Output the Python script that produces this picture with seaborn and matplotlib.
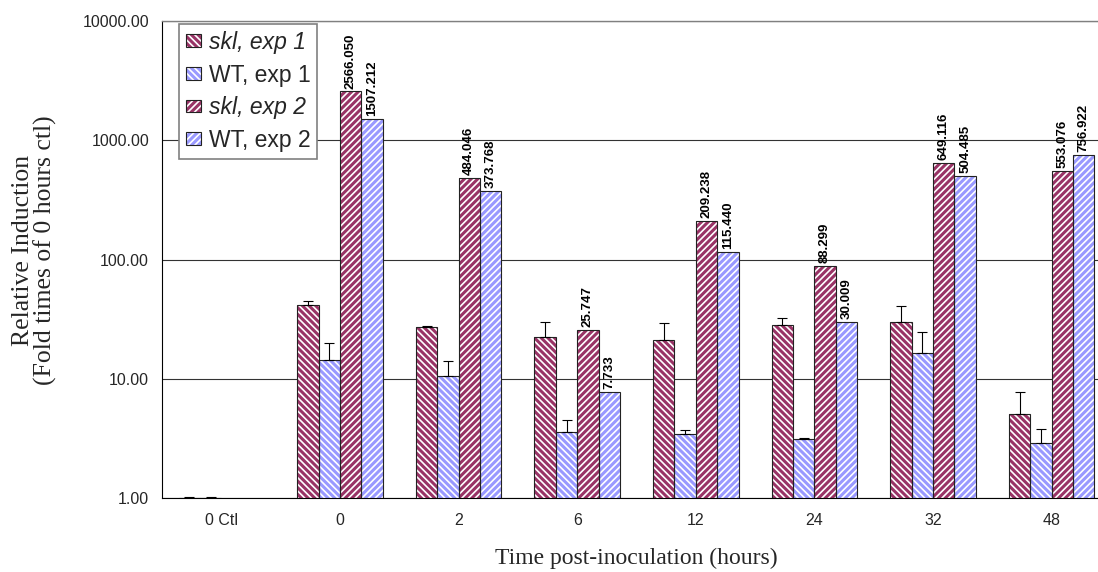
import numpy as np
import pandas as pd
import matplotlib
matplotlib.use("Agg")
import matplotlib.pyplot as plt
import seaborn as sns
from matplotlib.patches import Rectangle, Patch
from matplotlib.ticker import FixedLocator, NullLocator, FormatStrFormatter

# ---------------- data ----------------
categories = ["0 Ctl", "0", "2", "6", "12", "24", "32", "48"]
series = ["skl, exp 1", "WT, exp 1", "skl, exp 2", "WT, exp 2"]

skl_exp1 = [1.0, 41.7, 27.3, 22.5, 21.0, 28.0, 29.9, 5.1]
skl_exp1_err = [0.02, 2.9, 0.5, 7.5, 8.1, 4.1, 10.5, 2.7]
wt_exp1 = [1.0, 14.3, 10.6, 3.56, 3.44, 3.12, 16.5, 2.87]
wt_exp1_err = [0.02, 5.7, 3.5, 0.94, 0.27, 0.06, 8.3, 0.9]
skl_exp2 = [np.nan, 2566.050, 484.046, 25.747, 209.238, 88.299, 649.116, 553.076]
wt_exp2 = [np.nan, 1507.212, 373.768, 7.733, 115.440, 30.009, 504.485, 756.922]

values = {series[0]: skl_exp1, series[1]: wt_exp1,
          series[2]: skl_exp2, series[3]: wt_exp2}
errors = {series[0]: skl_exp1_err, series[1]: wt_exp1_err}

rows = []
for s in series:
    for c, v in zip(categories, values[s]):
        rows.append({"time": c, "series": s, "value": v})
df = pd.DataFrame(rows)

maroon = "#993366"
blue = "#9999FF"
colors = [maroon, blue, maroon, blue]
hatches = ["\\\\\\\\\\", "\\\\\\\\\\", "/////", "/////"]
edge = "#222222"

sns.set_style("white")
plt.rcParams["font.family"] = ["Liberation Sans", "DejaVu Sans"]
plt.rcParams["hatch.linewidth"] = 1.2

fig = plt.figure(figsize=(10.98, 5.72), dpi=100)
ax = fig.add_axes([162 / 1098, 74 / 572, 949 / 1098, 477 / 572])

sns.barplot(data=df, x="time", y="value", hue="series", order=categories,
            hue_order=series, palette=colors, width=0.72, errorbar=None,
            saturation=1, legend=False, ax=ax)
ax.set_yscale("log")
ax.set_ylim(1, 10000)
ax.set_xlim(-0.5, len(categories) - 0.5)

bar_containers = list(ax.containers)
for i, cont in enumerate(bar_containers):
    s = series[i]
    for p in cont.patches:
        h = p.get_height()
        if not np.isfinite(h):
            continue
        p.set_hatch(hatches[i])
        p.set_edgecolor("white")
        p.set_linewidth(0)
        ax.add_patch(Rectangle((p.get_x(), p.get_y()), p.get_width(), h,
                               fill=False, ec=edge, lw=0.8, zorder=p.get_zorder() + 0.1))
        xc = p.get_x() + p.get_width() / 2
        k = int(round(xc))
        if s in errors:
            ax.errorbar([xc], [h], yerr=[[0], [errors[s][k]]], fmt="none",
                        ecolor="black", elinewidth=0.8, capsize=3.6,
                        capthick=0.8, zorder=4)
        else:
            ax.annotate(f"{values[s][k]:.3f}", (xc, h), xytext=(0, 2),
                        textcoords="offset points", rotation=90,
                        ha="center", va="bottom", fontsize=9.5,
                        fontweight="bold", color="black")

# axes styling
ax.yaxis.set_major_locator(FixedLocator([1, 10, 100, 1000, 10000]))
ax.yaxis.set_minor_locator(NullLocator())
ax.yaxis.set_major_formatter(FormatStrFormatter("%.2f"))
ax.yaxis.grid(True, which="major", color="#333333", lw=0.8)
ax.set_axisbelow(True)

ax.set_xticks(range(len(categories)))
ax.set_xticklabels(categories)
ax.set_xticks(np.arange(-0.5, len(categories)), minor=True)
ax.tick_params(axis="x", which="major", length=0, pad=11, labelsize=11.5)
ax.tick_params(axis="x", which="minor", length=3.8, width=0.8, color="black", direction="out")
ax.tick_params(axis="y", which="major", length=3.8, width=0.8, color="black",
               direction="out", pad=5.5, labelsize=11.5)

for side in ["left", "bottom"]:
    ax.spines[side].set_color("black")
    ax.spines[side].set_linewidth(0.8)
for side in ["top", "right"]:
    ax.spines[side].set_color("#808080")
    ax.spines[side].set_linewidth(1.0)

ax.set_ylabel("Relative Induction\n(Fold times of 0 hours ctl)",
              family=["Liberation Serif", "DejaVu Serif"], fontsize=18.5,
              linespacing=0.98)
ax.yaxis.set_label_coords(-0.111, 0.52)
ax.set_xlabel("Time post-inoculation (hours)",
              family=["Liberation Serif", "DejaVu Serif"], fontsize=17)
ax.xaxis.set_label_coords(0.5, -0.105)

# legend
handles = []
for i, s in enumerate(series):
    handles.append((Patch(facecolor=colors[i], hatch=hatches[i], edgecolor="white", lw=0),
                    Patch(fill=False, edgecolor=edge, lw=0.8)))
leg = ax.legend(handles, series, loc="upper left",
                bbox_to_anchor=(0.0179, 0.9937), borderaxespad=0,
                fontsize=16.5, frameon=True, fancybox=False, framealpha=1,
                edgecolor="#808080", handlelength=0.65, handleheight=0.48,
                handletextpad=0.35, labelspacing=0.42, borderpad=0.3)
leg.get_frame().set_linewidth(1.2)
for t, s in zip(leg.get_texts(), series):
    if s.startswith("skl"):
        t.set_fontstyle("italic")

fig.savefig("out.png", dpi=100, facecolor="white")
